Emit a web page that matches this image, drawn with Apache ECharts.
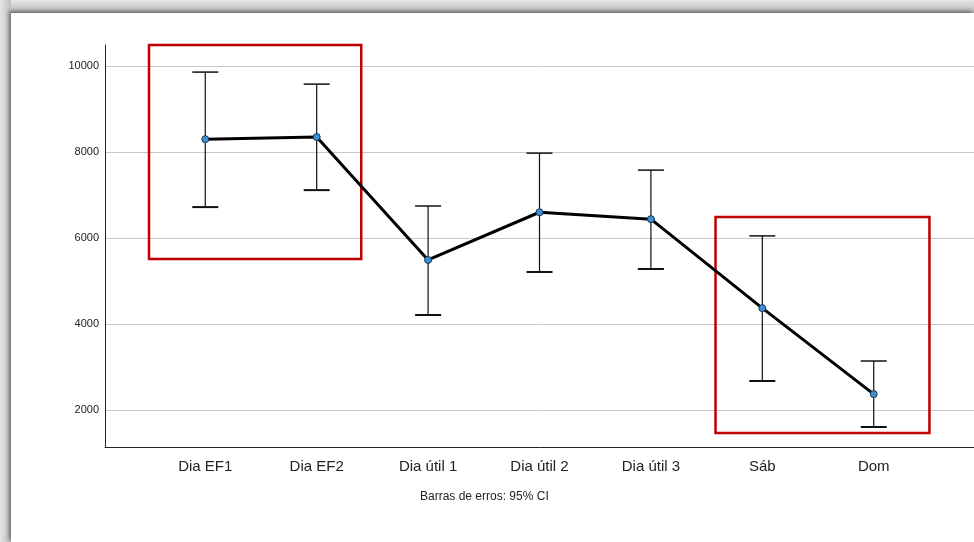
<!DOCTYPE html>
<html>
<head>
<meta charset="utf-8">
<script src="https://cdn.jsdelivr.net/npm/echarts@6/dist/echarts.min.js"></script>
<style>
  html, body { margin: 0; padding: 0; }
  body { width: 974px; height: 542px; position: relative; overflow: hidden;
         background: linear-gradient(to bottom, #e6e6e6 0px, #c4c4c4 10px, #b4b4b4 13px, #ffffff 13px); }
  #frame { position: absolute; left: 11px; top: 13px; right: 0; bottom: 0; background: #fff;
           box-shadow: -2px -2px 4px rgba(0,0,0,0.45); }
  #leftEdge { position: absolute; left: 0; top: 0; width: 11px; bottom: 0;
              background: linear-gradient(to right, #e4e4e4, #c0c0c0); }
  #main { position: absolute; left: 0; top: 0; width: 974px; height: 542px; }
</style>
</head>
<body>
<div id="leftEdge"></div>
<div id="frame"></div>
<div id="main"></div>
<script>
// categories and values (95% CI error bars)
const categories = ['Dia EF1', 'Dia EF2', 'Dia útil 1', 'Dia útil 2', 'Dia útil 3', 'Sáb', 'Dom'];
const means = [8300, 8350, 5490, 6600, 6440, 4370, 2370];
const lower = [6720, 7115, 4210, 5210, 5280, 2675, 1605];
const upper = [9860, 9580, 6745, 7975, 7580, 6050, 3140];
const yTicks = [2000, 4000, 6000, 8000, 10000];
// highlight boxes: [xFrom, yFrom, xTo, yTo]
const boxes = [
  [-0.505, 5510, 1.40, 10540],
  [4.58, 1465, 6.50, 6490]
];

const chart = echarts.init(document.getElementById('main'), null, { renderer: 'canvas' });

const idx = categories.map((c, i) => i);

const option = {
  backgroundColor: 'transparent',
  animation: false,
  grid: { left: 105, right: 0, top: 45, bottom: 95 },
  xAxis: {
    type: 'value',
    min: -0.9,
    max: 6.9,
    axisLine: { show: true, onZero: false, lineStyle: { color: '#222', width: 1 } },
    axisTick: { show: false },
    splitLine: { show: false },
    axisLabel: {
      customValues: idx,
      formatter: v => categories[Math.round(v)] || '',
      color: '#222',
      fontFamily: 'Liberation Sans, Arial, sans-serif',
      fontSize: 15,
      margin: 12
    }
  },
  yAxis: {
    type: 'value',
    min: 1140,
    max: 10490,
    axisLine: { show: true, onZero: false, lineStyle: { color: '#222', width: 1 } },
    axisTick: { show: false, customValues: yTicks },
    splitLine: { show: true, lineStyle: { color: '#c8c8c8', width: 1 } },
    axisLabel: {
      customValues: yTicks,
      formatter: v => String(v),
      color: '#222',
      fontFamily: 'Liberation Sans, Arial, sans-serif',
      fontSize: 11,
      margin: 6
    }
  },
  graphic: [{
    type: 'text',
    left: 420,
    top: 491,
    style: {
      text: 'Barras de erros: 95% CI',
      fill: '#222',
      font: '12px Liberation Sans, Arial, sans-serif'
    }
  }],
  series: [
    {
      type: 'custom',
      clip: false,
      data: idx.map(i => [i, lower[i], upper[i]]),
      renderItem: (params, api) => {
        const x = api.value(0);
        const lo = api.coord([x, api.value(1)]);
        const hi = api.coord([x, api.value(2)]);
        const half = 13;
        return {
          type: 'group',
          children: [
            { type: 'line', shape: { x1: lo[0], y1: lo[1], x2: hi[0], y2: hi[1] },
              style: { stroke: '#111', lineWidth: 1.2 } },
            { type: 'line', shape: { x1: hi[0] - half, y1: hi[1], x2: hi[0] + half, y2: hi[1] },
              style: { stroke: '#111', lineWidth: 1.5 } },
            { type: 'line', shape: { x1: lo[0] - half, y1: lo[1], x2: lo[0] + half, y2: lo[1] },
              style: { stroke: '#111', lineWidth: 2 } }
          ]
        };
      },
      z: 2
    },
    {
      type: 'line',
      data: idx.map(i => [i, means[i]]),
      symbol: 'circle',
      symbolSize: 7,
      lineStyle: { color: '#000', width: 3 },
      itemStyle: { color: '#3a8fd6', borderColor: '#1d3550', borderWidth: 1 },
      z: 3
    },
    {
      type: 'line',
      data: [],
      clip: false,
      markArea: {
        silent: true,
        itemStyle: { color: 'rgba(0,0,0,0)', borderColor: '#c00000', borderWidth: 2.5 },
        data: boxes.map(b => [{ coord: [b[0], b[1]] }, { coord: [b[2], b[3]] }])
      },
      z: 4
    }
  ]
};

chart.setOption(option);
</script>
</body>
</html>
